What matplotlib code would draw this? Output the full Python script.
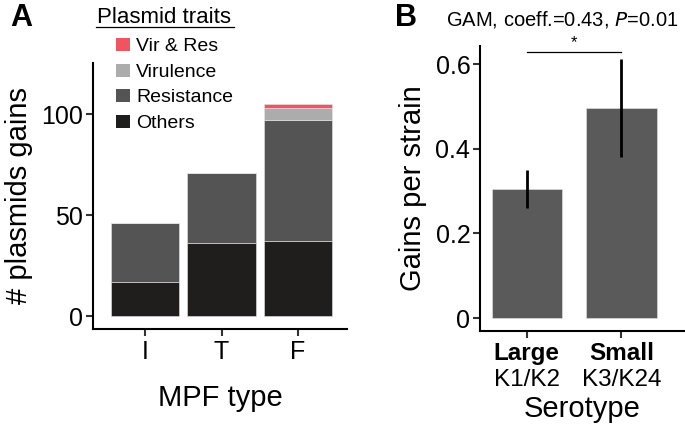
import matplotlib
matplotlib.use("Agg")
import matplotlib.pyplot as plt
import matplotlib.transforms as mtransforms
from matplotlib.patches import Rectangle
from matplotlib.lines import Line2D

plt.rcParams['font.family'] = ['Liberation Sans', 'DejaVu Sans']

# panel A data
mpf_types = ["I", "T", "F"]
others = [17, 36, 37]
resistance = [29, 35, 60]
virulence = [0, 0, 6]
vir_res = [0, 0, 2]
trait_labels = ["Vir & Res", "Virulence", "Resistance", "Others"]
trait_colors = ["#ef5560", "#acacac", "#545454", "#201d1d"]

# panel B data
serotypes = ["Large", "Small"]
serotype_sub = ["K1/K2", "K3/K24"]
gains = [0.305, 0.497]
err_lo = [0.261, 0.381]
err_hi = [0.350, 0.613]

W, H = 685, 429
fig = plt.figure(figsize=(W / 100, H / 100), dpi=100)


def style_axes(ax):
    for s in ["top", "right"]:
        ax.spines[s].set_visible(False)
    for s in ["left", "bottom"]:
        ax.spines[s].set_linewidth(1.5)
    ax.tick_params(axis="both", length=5, width=1.5, labelsize=18,
                   colors="#333333", labelcolor="black")
    ax.tick_params(axis="y", pad=2)
    ax.tick_params(axis="x", pad=3)


# ---- Panel A ----
axA = fig.add_axes([93 / W, 1 - 329 / H, 254 / W, 266 / H])
x = list(range(1, len(mpf_types) + 1))
bottom = [0, 0, 0]
stack = [others, resistance, virulence, vir_res]
stack_colors = trait_colors[::-1]
for vals, col in zip(stack, stack_colors):
    axA.bar(x, vals, width=0.9, bottom=bottom, color=col,
            edgecolor="#e6e6e6", linewidth=0.4)
    bottom = [b + v for b, v in zip(bottom, vals)]
axA.set_xlim(0.32, 3.64)
axA.set_ylim(-6.4, 125.4)
axA.set_xticks(x)
axA.set_xticklabels(mpf_types)
axA.set_yticks([0, 50, 100])
axA.set_yticklabels(["0", "50", "100"])
style_axes(axA)
axA.set_xlabel("MPF type", fontsize=21, labelpad=14)
axA.set_ylabel("# plasmids gains", fontsize=21, labelpad=6)

# legend drawn by hand
fig.text(97 / W, 1 - 23 / H, "Plasmid traits", fontsize=16, ha="left",
         va="baseline")
fig.add_artist(Line2D([96 / W, 234 / W], [1 - 27 / H, 1 - 27 / H],
                      color="black", linewidth=0.9))
for i, (lab, col) in enumerate(zip(trait_labels, trait_colors)):
    yc = 44.5 + i * 25.6
    fig.add_artist(Rectangle((116 / W, 1 - (yc + 6.5) / H), 14 / W, 13 / H,
                             facecolor=col, edgecolor="none",
                             transform=fig.transFigure))
    fig.text(136 / W, 1 - yc / H, lab, fontsize=14, ha="left",
             va="center_baseline")

fig.text(10 / W, 1 - 18 / H, "A", fontsize=22, fontweight="bold",
         ha="left", va="center")

# ---- Panel B ----
axB = fig.add_axes([480 / W, 1 - 330.7 / H, 205 / W, 284.7 / H])
xb = list(range(1, len(serotypes) + 1))
axB.bar(xb, gains, width=0.74, color="#5a5a5a", edgecolor="#e6e6e6",
        linewidth=0.4)
axB.vlines(xb, err_lo, err_hi, color="black", linewidth=2)
axB.set_xlim(0.508, 2.67)
axB.set_ylim(-0.03, 0.643)
axB.set_yticks([0, 0.2, 0.4, 0.6])
axB.set_yticklabels(["0", "0.2", "0.4", "0.6"])
axB.set_xticks(xb)
axB.set_xticklabels(serotypes, fontweight="bold", fontsize=17.5)
style_axes(axB)
axB.tick_params(axis="x", labelsize=17.5)
trans = mtransforms.blended_transform_factory(axB.transData, fig.transFigure)
for xi, sub in zip(xb, serotype_sub):
    axB.text(xi, 1 - 378 / H, sub, transform=trans, fontsize=17.5,
             ha="center", va="center_baseline")
axB.set_xlabel("Serotype", fontsize=21, labelpad=22)
axB.set_ylabel("Gains per strain", fontsize=21, labelpad=6)

# significance bracket
axB.plot([1, 2], [0.629, 0.629], color="black", linewidth=0.9,
         clip_on=False)
axB.text(1.5, 0.634, "*", fontsize=12, ha="center", va="bottom")

fig.text(562 / W, 1 - 20 / H, "GAM, coeff.=0.43, $\\it{P}$=0.01",
         fontsize=14.5, ha="center", va="center")
fig.text(395 / W, 1 - 18 / H, "B", fontsize=22, fontweight="bold",
         ha="left", va="center")

fig.savefig("out.png", dpi=100)
